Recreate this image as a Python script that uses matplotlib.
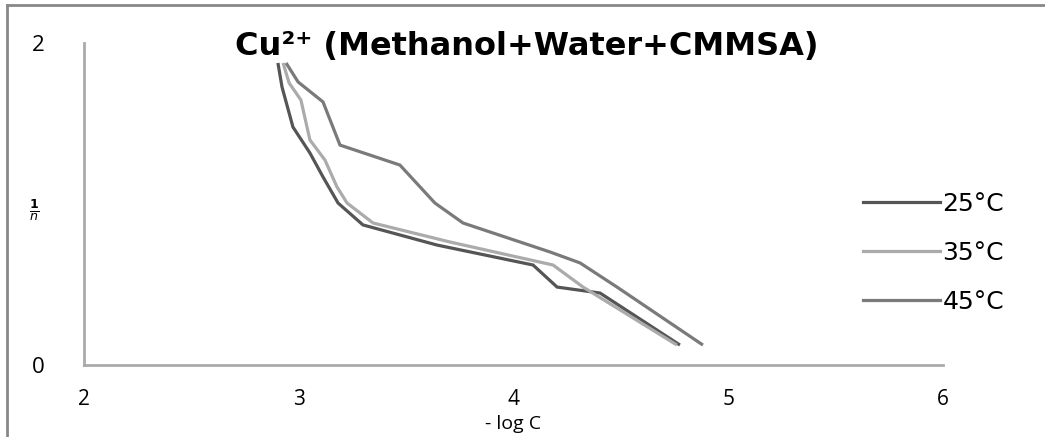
import matplotlib
matplotlib.use("Agg")
import matplotlib.pyplot as plt
from matplotlib.lines import Line2D

plt.rcParams['font.family'] = ['Open Sans', 'DejaVu Sans']

# Data
x_25 = [2.903, 2.922, 2.973, 3.052, 3.113, 3.183, 3.299, 3.644, 4.091, 4.203, 4.403, 4.775]
y_25 = [1.876, 1.727, 1.478, 1.317, 1.168, 1.006, 0.870, 0.745, 0.621, 0.484, 0.447, 0.124]

x_35 = [2.927, 2.955, 3.010, 3.052, 3.122, 3.178, 3.225, 3.346, 3.704, 4.184, 4.324, 4.761]
y_35 = [1.876, 1.752, 1.646, 1.398, 1.273, 1.106, 1.006, 0.882, 0.764, 0.621, 0.484, 0.124]

x_45 = [2.941, 2.997, 3.113, 3.192, 3.471, 3.634, 3.765, 4.170, 4.310, 4.482, 4.882]
y_45 = [1.876, 1.758, 1.634, 1.366, 1.242, 1.006, 0.882, 0.702, 0.634, 0.484, 0.124]

series_labels = ['25°C', '35°C', '45°C']
x_ticks = [2, 3, 4, 5, 6]
y_ticks = [0, 2]
title = 'Cu²⁺ (Methanol+Water+CMMSA)'

colors = ['#555555', '#ababab', '#7a7a7a']

fig = plt.figure(figsize=(10.45, 4.37), dpi=100)
ax = fig.add_axes([84/1045, 1-365/437, (943-84)/1045, (365-43)/437])

for xs, ys, c, lab in zip([x_25, x_35, x_45], [y_25, y_35, y_45], colors, series_labels):
    ax.plot(xs, ys, color=c, lw=2.3, label=lab, solid_capstyle='butt', solid_joinstyle='miter')

ax.set_xlim(2, 6)
ax.set_ylim(0, 2)
ax.set_xticks(x_ticks)
ax.set_yticks(y_ticks)
ax.set_xticklabels([str(t) for t in x_ticks], fontsize=15)
ax.set_yticklabels([str(t) for t in y_ticks], fontsize=16)
ax.tick_params(axis='x', length=0, pad=17)
ax.tick_params(axis='y', length=0, pad=28)
for s in ['top', 'right']:
    ax.spines[s].set_visible(False)
for s in ['left', 'bottom']:
    ax.spines[s].set_color('#aaaaaa')
    ax.spines[s].set_linewidth(2)

fig.text(513/1045, 1-424/437, '- log C', ha='center', va='center', fontsize=14)
fig.text(34/1045, 1-210/437, r'$\frac{\mathbf{1}}{n}$', ha='center', va='center', fontsize=13)
fig.text(527/1045, 1-47/437, title, ha='center', va='center', fontsize=23,
         fontweight='bold', family=['DejaVu Sans'])

# legend
handles = [Line2D([0], [0], color=c, lw=2.3) for c in colors]
leg = fig.legend(handles, series_labels, loc='center left',
                 bbox_to_anchor=(840/1045, 1-253/437), frameon=False,
                 prop={'family': 'DejaVu Sans', 'size': 18},
                 handlelength=3.1, handletextpad=0.1, labelspacing=1.0)

# outer border (top and left visible)
fig.add_artist(Line2D([7/1045, 1], [1-5/437, 1-5/437], color='#888888', lw=2, transform=fig.transFigure))
fig.add_artist(Line2D([7/1045, 7/1045], [0, 1-5/437], color='#888888', lw=2, transform=fig.transFigure))

fig.savefig('out.png', dpi=100)
